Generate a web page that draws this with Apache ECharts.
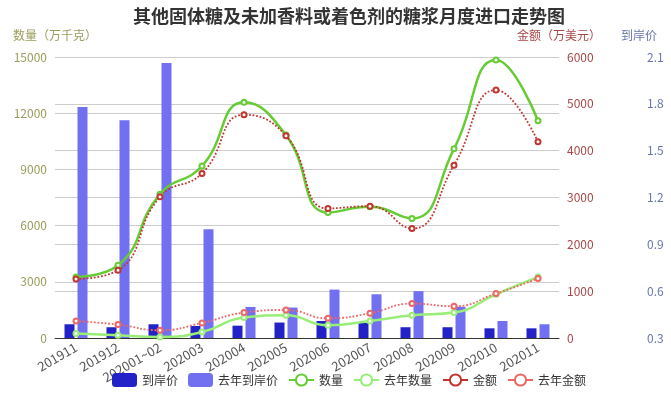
<!DOCTYPE html>
<html><head><meta charset="utf-8">
<script src="https://cdn.jsdelivr.net/npm/echarts@6/dist/echarts.min.js"></script>
<style>html,body{margin:0;padding:0;background:#fff}#c{width:671px;height:393px}</style>
</head><body><div id="c"></div>
<script>
const categories = ['201911','201912','202001~02','202003','202004','202005','202006','202007','202008','202009','202010','202011'];
const price = [0.388,0.369,0.388,0.377,0.379,0.399,0.409,0.396,0.369,0.369,0.362,0.362];
const lastPrice = [1.78,1.695,2.062,0.996,0.499,0.495,0.61,0.58,0.60,0.50,0.409,0.388];
const qty = [3260,3885,7680,9175,12580,10830,6700,7000,6380,10100,14840,11600];
const lastQty = [235,144,53,320,1090,1213,680,910,1213,1357,2335,3260];
const amount = [1261,1447,3014,3514,4767,4318,2766,2815,2338,3691,5295,4190];
const lastAmount = [363,286,165,321,543,598,421,528,735,678,949,1270];

const chart = echarts.init(document.getElementById('c'));
const font = 'Microsoft YaHei, "Noto Sans CJK SC", sans-serif';
chart.setOption({
  textStyle:{fontFamily:font},
  title:{text:'其他固体糖及未加香料或着色剂的糖浆月度进口走势图', left:128, top:2,
    textStyle:{fontSize:18, fontWeight:'bold', color:'#333', fontFamily:font}},
  grid:{left:55, right:112, top:57, bottom:55},
  legend:{left:107, bottom:1, itemWidth:25, itemHeight:14, itemGap:10,
    textStyle:{fontSize:12, color:'#333'},
    lineStyle:{type:'solid', width:2},
    data:['到岸价','去年到岸价','数量','去年数量','金额','去年金额']},
  xAxis:{type:'category', data:categories,
    axisLine:{lineStyle:{color:'#333'}},
    axisTick:{alignWithLabel:false},
    axisLabel:{rotate:30, color:'#555', fontSize:13, interval:0, margin:8}},
  yAxis:[
    {type:'value', name:'数量（万千克）', position:'left', min:0, max:15000, interval:3000,
     nameGap:16, nameTextStyle:{color:'#9a9d5c', fontSize:12},
     axisLabel:{color:'#9a9d5c', fontSize:12, formatter:v=>String(v)}, axisLine:{show:false}, axisTick:{show:false},
     splitLine:{lineStyle:{color:'#ccc'}}},
    {type:'value', name:'金额（万美元）', position:'right', min:0, max:6000, interval:1000,
     nameGap:16, nameTextStyle:{color:'#a94848', fontSize:12},
     axisLabel:{color:'#a94848', fontSize:12, formatter:v=>String(v)}, axisLine:{show:false}, axisTick:{show:false},
     splitLine:{lineStyle:{color:'#ccc'}}},
    {type:'value', name:'到岸价', position:'right', offset:80, min:0.3, max:2.1, interval:0.3,
     nameGap:16, nameTextStyle:{color:'#6677aa', fontSize:12},
     axisLabel:{color:'#6677aa', fontSize:12, formatter:v=>(+v).toFixed(1)}, axisLine:{show:false}, axisTick:{show:false},
     splitLine:{show:false}}
  ],
  series:[
    {name:'到岸价', type:'bar', yAxisIndex:2, data:price, barWidth:10, barGap:'30%',
     itemStyle:{color:'#2222c8'}},
    {name:'去年到岸价', type:'bar', yAxisIndex:2, data:lastPrice, barWidth:10,
     itemStyle:{color:'#7070f0'}},
    {name:'数量', type:'line', yAxisIndex:0, data:qty, smooth:true, symbol:'emptyCircle', symbolSize:5,
     lineStyle:{width:2.5, color:'#66cc33'}, itemStyle:{color:'#66cc33', borderWidth:1.2}},
    {name:'去年数量', type:'line', yAxisIndex:0, data:lastQty, smooth:true, symbol:'emptyCircle', symbolSize:5,
     lineStyle:{width:2.5, color:'#99ee77'}, itemStyle:{color:'#99ee77', borderWidth:1.2}},
    {name:'金额', type:'line', yAxisIndex:1, data:amount, smooth:true, symbol:'emptyCircle', symbolSize:5,
     lineStyle:{width:1.8, color:'#c23531', type:'dotted'}, itemStyle:{color:'#c23531', borderWidth:1.2}},
    {name:'去年金额', type:'line', yAxisIndex:1, data:lastAmount, smooth:true, symbol:'emptyCircle', symbolSize:5,
     lineStyle:{width:1.8, color:'#ee6666', type:'dotted'}, itemStyle:{color:'#ee6666', borderWidth:1.2}}
  ]
});
</script></body></html>
